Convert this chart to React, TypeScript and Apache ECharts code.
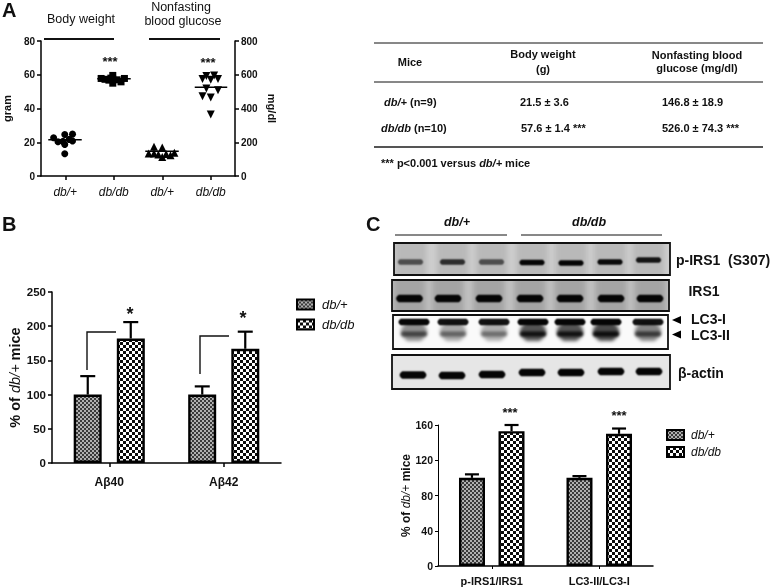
import React, { useEffect, useRef } from "react";
import * as echarts from "echarts";

const FONT = "Liberation Sans";

// Panel A
const groupLabels = ["db/+", "db/db", "db/+", "db/db"];
const weightCtrl = [[0.26, 22.7], [0.35, 20.3], [0.45, 20.5], [0.49, 24.6], [0.49, 18.7], [0.49, 13.2], [0.58, 21.7], [0.65, 24.8], [0.65, 20.7]];
const weightDb = [[1.24, 57.8], [1.32, 57.3], [1.4, 56.8], [1.48, 59.6], [1.48, 55], [1.48, 57.4], [1.44, 58], [1.57, 57], [1.65, 55.8], [1.72, 57.8]];
const glucoseCtrl = [[2.33, 173], [2.5, 169], [2.22, 133], [2.33, 133], [2.42, 127], [2.5, 113], [2.58, 130], [2.67, 123], [2.75, 138]];
const glucoseDb = [[3.41, 593], [3.57, 595], [3.33, 575], [3.5, 571], [3.65, 575], [3.41, 518], [3.65, 508], [3.33, 473], [3.5, 465], [3.5, 364]];
const meanLines = [
  { from: 0.15, to: 0.84, value: 21.5, axis: 0 },
  { from: 1.16, to: 1.85, value: 57.6, axis: 0 },
  { from: 2.15, to: 2.84, value: 146.8, axis: 1 },
  { from: 3.17, to: 3.84, value: 526, axis: 1 },
];

// Panel B
const abetaLabels = ["Aβ40", "Aβ42"];
const abetaCtrl = [100, 100];
const abetaDb = [182, 167];
const abetaCtrlErr = [127, 112];
const abetaDbErr = [206, 192];

// Panel C
const ratioLabels = ["p-IRS1/IRS1", "LC3-II/LC3-I"];
const ratioCtrl = [100, 100];
const ratioDb = [153, 150];
const ratioCtrlErr = [104, 102];
const ratioDbErr = [160, 156];

// Blot band intensities per lane
const pIrsBands = [0.6, 0.78, 0.6, 1, 1, 0.98, 0.92];
const irsBands = [1, 1, 1, 1, 1, 1, 1];
const lc3OneBands = [1, 0.95, 0.95, 1, 1, 1, 0.95];
const lc3TwoBands = [0.55, 0.42, 0.38, 0.85, 0.85, 0.9, 0.6];
const actinBands = [1, 1, 1, 1, 1, 1, 1];

const tableHeader = { mice: "Mice", weight: ["Body weight", "(g)"], glucose: ["Nonfasting blood", "glucose (mg/dl)"] };
const tableRows = [
  { name: "{i|db/+} {b|(n=9)}", weight: "21.5 ± 3.6", glucose: "146.8 ± 18.9" },
  { name: "{i|db/db} {b|(n=10)}", weight: "57.6 ± 1.4 ***", glucose: "526.0 ± 74.3 ***" },
];

function checker(period: number, dark: string, light: string) {
  const c = document.createElement("canvas");
  c.width = period;
  c.height = period;
  const g = c.getContext("2d")!;
  g.fillStyle = light;
  g.fillRect(0, 0, period, period);
  g.fillStyle = dark;
  g.fillRect(0, 0, period / 2, period / 2);
  g.fillRect(period / 2, period / 2, period / 2, period / 2);
  return c;
}

type Band = { xs: number[]; y: number[]; amount: number[]; w: number; h: number; blur: number };

function blot(w: number, h: number, x0: number, y0: number, bg: string, lane: string | null, laneW: number, bands: Band[]) {
  const c = document.createElement("canvas");
  c.width = w * 2;
  c.height = h * 2;
  const g = c.getContext("2d")!;
  g.scale(2, 2);
  g.fillStyle = bg;
  g.fillRect(0, 0, w, h);
  if (lane) {
    g.filter = "blur(6px)";
    g.fillStyle = lane;
    bands[0].xs.forEach((x) => g.fillRect(x - x0 - laneW / 2, -8, laneW, h + 16));
  }
  bands.forEach((b) => {
    g.filter = `blur(${b.blur * 2}px)`;
    b.xs.forEach((x, i) => {
      g.fillStyle = `rgba(5,5,5,${b.amount[i]})`;
      g.beginPath();
      const rx = b.w / 2;
      const ry = b.h / 2;
      const cx = x - x0;
      const cy = b.y[i] - y0;
      g.moveTo(cx - rx + ry, cy - ry);
      g.lineTo(cx + rx - ry, cy - ry);
      g.quadraticCurveTo(cx + rx + ry * 0.4, cy, cx + rx - ry, cy + ry);
      g.lineTo(cx - rx + ry, cy + ry);
      g.quadraticCurveTo(cx - rx - ry * 0.4, cy, cx - rx + ry, cy - ry);
      g.fill();
    });
  });
  g.filter = "none";
  return c.toDataURL();
}

function text(value: string, x: number, y: number, o: any = {}) {
  const { rotation, ...st } = o;
  return {
    type: "text",
    x,
    y,
    rotation: rotation || 0,
    silent: true,
    style: {
      text: value,
      fontFamily: FONT,
      fontSize: 11,
      fontWeight: "bold",
      fill: "#111",
      align: "left",
      verticalAlign: "middle",
      ...st,
    },
  };
}

function hline(x1: number, x2: number, y: number, width: number, color = "#111") {
  return { type: "line", silent: true, shape: { x1, y1: y, x2, y2: y }, style: { stroke: color, lineWidth: width } };
}

function errorBars(xAxisIndex: number, yAxisIndex: number, tops: number[], bases: number[], offset: number, cap: number) {
  return {
    type: "custom",
    name: "err",
    xAxisIndex,
    yAxisIndex,
    z: 1,
    silent: true,
    encode: { x: 0, y: [1, 2] },
    data: tops.map((t, i) => [i, t, bases[i]]),
    renderItem: (_: any, api: any) => {
      const top = api.coord([api.value(0), api.value(1)]);
      const base = api.coord([api.value(0), api.value(2)]);
      const x = top[0] + offset;
      const st = { stroke: "#000", lineWidth: 2.2 };
      return {
        type: "group",
        children: [
          { type: "line", shape: { x1: x, y1: top[1], x2: x, y2: base[1] }, style: st },
          { type: "line", shape: { x1: x - cap / 2, y1: top[1], x2: x + cap / 2, y2: top[1] }, style: st },
        ],
      };
    },
  };
}

function App() {
  const ref = useRef<HTMLDivElement>(null);
  useEffect(() => {
    document.body.style.margin = "0";
    document.body.style.background = "#fff";
    const chart = echarts.init(ref.current!, null, { renderer: "svg" });

    const fine = { image: checker(4, "#3a3a3a", "#b0b0b0"), repeat: "repeat" };
    const coarse = { image: checker(6, "#0a0a0a", "#fff"), repeat: "repeat" };
    const barStyle = (color: any) => ({ color, borderColor: "#000", borderWidth: 2.4 });

    const axisLine = { show: true, lineStyle: { color: "#000", width: 1.5 } };
    const axisTick = { show: true, length: 4, lineStyle: { color: "#000", width: 1.5 } };
    const valueLabel = (size: number, margin: number) => ({ color: "#111", fontWeight: "bold", fontSize: size, fontFamily: FONT, margin });
    const pctName = (size: number) => ({
      name: "{a|% of }{b|db/+}{a| mice}",
      nameLocation: "middle",
      nameRotate: 90,
      nameTextStyle: {
        rich: {
          a: { fontFamily: FONT, fontWeight: "bold", fontSize: size, color: "#111" },
          b: { fontFamily: FONT, fontStyle: "italic", fontSize: size, color: "#111" },
        },
      },
    });

    const lanesA = [410.5, 452.5, 491.5, 532, 571, 610, 648.5];
    const lanesB = [409.5, 448, 489, 530, 570, 611, 650];
    const lanesC = [414, 453, 494, 533, 570, 606, 648];
    const lanesD = [413, 452, 492, 532, 571, 611, 649];

    const blots = [
      { x: 394, y: 243, w: 276, h: 32, src: blot(276, 32, 394, 243, "#cfcfcf", "#b9b9b9", 32, [
        { xs: lanesA, y: [262, 262, 262, 262.5, 263, 262, 260], amount: pIrsBands, w: 27, h: 5.5, blur: 0.9 },
      ]) },
      { x: 392, y: 280, w: 277, h: 31, src: blot(277, 31, 392, 280, "#c4c4c4", "#a4a4a4", 32, [
        { xs: lanesB, y: [298.5, 298.5, 298.5, 298.5, 298.5, 298.5, 298.5], amount: irsBands, w: 29, h: 7.5, blur: 0.7 },
      ]) },
      { x: 393, y: 315, w: 275, h: 34, src: blot(275, 34, 393, 315, "#fafafa", null, 0, [
        { xs: lanesC, y: lanesC.map(() => 331.5), amount: lc3TwoBands.map((a) => a * 0.8), w: 32, h: 19, blur: 1.8 },
        { xs: lanesC, y: lanesC.map(() => 334), amount: lc3TwoBands, w: 28, h: 5, blur: 1.2 },
        { xs: lanesC, y: lanesC.map(() => 322), amount: lc3OneBands, w: 33, h: 6.5, blur: 0.9 },
      ]) },
      { x: 392, y: 355, w: 278, h: 34, src: blot(278, 34, 392, 355, "#e6e6e6", null, 0, [
        { xs: lanesD, y: [375, 375.5, 374.5, 372.5, 372.5, 371.5, 371.5], amount: actinBands, w: 29, h: 7.5, blur: 0.8 },
      ]) },
    ];

    const richRow = {
      i: { fontFamily: FONT, fontStyle: "italic", fontWeight: "bold", fontSize: 11, fill: "#111", color: "#111" },
      b: { fontFamily: FONT, fontWeight: "bold", fontSize: 11, fill: "#111", color: "#111" },
    };

    const graphic: any[] = [
      text("A", 2, 10, { fontSize: 20 }),
      text("B", 2, 224, { fontSize: 20 }),
      text("C", 366, 224, { fontSize: 20 }),

      text("Body weight", 81, 19, { fontSize: 12.5, fontWeight: "normal", align: "center" }),
      text("Nonfasting", 181, 7, { fontSize: 12.5, fontWeight: "normal", align: "center" }),
      text("blood glucose", 183, 21, { fontSize: 12.5, fontWeight: "normal", align: "center" }),
      hline(44, 114, 39, 2),
      hline(149, 220, 39, 2),
      text("***", 110, 61, { fontSize: 13, align: "center" }),
      text("***", 208, 62, { fontSize: 13, align: "center" }),

      hline(374, 763, 43, 1),
      hline(374, 763, 82, 1),
      hline(374, 763, 147, 2, "#555"),
      text(tableHeader.mice, 410, 62, { align: "center" }),
      text(tableHeader.weight[0], 543, 54, { align: "center" }),
      text(tableHeader.weight[1], 543, 69, { align: "center" }),
      text(tableHeader.glucose[0], 697, 55, { align: "center" }),
      text(tableHeader.glucose[1], 697, 68, { align: "center" }),
      text(tableRows[0].name, 384, 102, { rich: richRow }),
      text(tableRows[1].name, 381, 128, { rich: richRow }),
      text(tableRows[0].weight, 520, 102),
      text(tableRows[1].weight, 521, 128),
      text(tableRows[0].glucose, 662, 102),
      text(tableRows[1].glucose, 662, 128),
      text("{b|*** p<0.001 versus }{i|db/+}{b| mice}", 381, 163, { rich: richRow }),

      { type: "polyline", silent: true, shape: { points: [[87, 370], [87, 332], [116, 332]] }, style: { stroke: "#111", lineWidth: 1.4, fill: "none" } },
      { type: "polyline", silent: true, shape: { points: [[200, 374], [200, 336], [229, 336]] }, style: { stroke: "#111", lineWidth: 1.4, fill: "none" } },
      text("*", 130, 314, { fontSize: 18, align: "center" }),
      text("*", 243, 318, { fontSize: 18, align: "center" }),

      text("db/+", 457, 222, { fontSize: 12.5, fontStyle: "italic", align: "center" }),
      text("db/db", 589, 222, { fontSize: 12.5, fontStyle: "italic", align: "center" }),
      hline(395, 507, 235, 1),
      hline(521, 662, 235, 1),
      ...blots.flatMap((b) => [
        { type: "image", silent: true, x: b.x, y: b.y, style: { image: b.src, x: 0, y: 0, width: b.w, height: b.h } },
        { type: "rect", silent: true, shape: { x: b.x, y: b.y, width: b.w, height: b.h }, style: { fill: "none", stroke: "#111", lineWidth: 1.8 } },
      ]),
      text("p-IRS1  (S307)", 676, 260, { fontSize: 14 }),
      text("IRS1", 704, 291, { fontSize: 14, align: "center" }),
      text("LC3-I", 691, 319, { fontSize: 14 }),
      text("LC3-II", 691, 335, { fontSize: 14 }),
      text("β-actin", 678, 373, { fontSize: 14 }),
      { type: "polygon", silent: true, shape: { points: [[672, 320], [681, 316], [681, 324]] }, style: { fill: "#000" } },
      { type: "polygon", silent: true, shape: { points: [[672, 334.5], [681, 330.5], [681, 338.5]] }, style: { fill: "#000" } },
      text("***", 510, 412, { fontSize: 13, align: "center" }),
      text("***", 619, 415, { fontSize: 13, align: "center" }),
    ];

    const legendOf = (left: number, top: number, gap: number, size: number, pad: number) => ({
      orient: "vertical",
      left,
      top,
      itemWidth: 17,
      itemHeight: 10,
      itemGap: gap,
      selectedMode: false,
      icon: "rect",
      data: ["db/+", "db/db"],
      padding: 0,
      textStyle: { fontFamily: FONT, fontStyle: "italic", fontSize: size, color: "#111", padding: [0, 0, 0, pad] },
    });

    const dots = (name: string, data: number[][], yAxisIndex: number, symbol: string, rotate = 0) => ({
      type: "scatter",
      name,
      xAxisIndex: 1,
      yAxisIndex,
      data,
      symbol,
      symbolSize: symbol === "circle" ? 7 : symbol === "rect" ? 7 : 8,
      symbolRotate: rotate,
      itemStyle: { color: "#000", opacity: 1 },
      silent: true,
      z: 2,
    });

    chart.setOption({
      animation: false,
      textStyle: { fontFamily: FONT },
      tooltip: { show: false },
      graphic,
      legend: [legendOf(296, 298, 7, 13, 3), legendOf(666, 429, 5, 12, 2)],
      grid: [
        { left: 32, top: 41, width: 203, height: 135 },
        { left: 52, top: 292, width: 229, height: 171 },
        { left: 438, top: 425, width: 215, height: 141 },
      ],
      xAxis: [
        { type: "category", gridIndex: 0, data: groupLabels, axisLine, axisTick: { ...axisTick, alignWithLabel: true },
          axisLabel: { color: "#111", fontStyle: "italic", fontSize: 12, fontFamily: FONT, margin: 10 } },
        { type: "value", gridIndex: 0, min: 0, max: 4, show: false, splitLine: { show: false } },
        { type: "category", gridIndex: 1, data: abetaLabels, axisLine, axisTick: { ...axisTick, alignWithLabel: true },
          axisLabel: { color: "#111", fontWeight: "bold", fontSize: 12, fontFamily: FONT, margin: 13 } },
        { type: "category", gridIndex: 2, data: ratioLabels, axisLine, axisTick: { show: true, length: 3, alignWithLabel: true, lineStyle: { color: "#000", width: 1 } },
          axisLabel: { color: "#111", fontWeight: "bold", fontSize: 11, fontFamily: FONT, margin: 9 } },
      ],
      yAxis: [
        { type: "value", gridIndex: 0, min: 0, max: 80, interval: 20, axisLine, axisTick, splitLine: { show: false },
          axisLabel: valueLabel(10, 6), name: "gram", nameLocation: "middle", nameRotate: 90, nameGap: 29,
          nameTextStyle: { fontWeight: "bold", fontSize: 11, color: "#111", fontFamily: FONT } },
        { type: "value", gridIndex: 0, position: "right", min: 0, max: 800, interval: 200, axisLine, axisTick, splitLine: { show: false },
          axisLabel: valueLabel(10, 6), name: "mg/dl", nameLocation: "middle", nameRotate: -90, nameGap: 31,
          nameTextStyle: { fontWeight: "bold", fontSize: 11, color: "#111", fontFamily: FONT } },
        { type: "value", gridIndex: 1, min: 0, max: 250, interval: 50, axisLine, axisTick, splitLine: { show: false },
          axisLabel: valueLabel(11.5, 6), ...pctName(14.5), nameGap: 28 },
        { type: "value", gridIndex: 2, min: 0, max: 160, interval: 40, axisLine: { show: true, lineStyle: { color: "#000", width: 1 } },
          axisTick: { show: true, length: 3, lineStyle: { color: "#000", width: 1 } }, splitLine: { show: false },
          axisLabel: valueLabel(10.5, 5), ...pctName(12), nameGap: 26 },
      ],
      series: [
        dots("weight control", weightCtrl, 0, "circle"),
        dots("weight db", weightDb, 0, "rect"),
        dots("glucose control", glucoseCtrl, 1, "triangle"),
        dots("glucose db", glucoseDb, 1, "triangle", 180),
        ...meanLines.map((m) => ({
          type: "line",
          name: "mean",
          xAxisIndex: 1,
          yAxisIndex: m.axis,
          data: [[m.from, m.value], [m.to, m.value]],
          symbol: "none",
          silent: true,
          z: 3,
          lineStyle: { color: "#000", width: 1.6 },
        })),

        errorBars(2, 2, abetaCtrlErr, abetaCtrl, -21.5, 15),
        errorBars(2, 2, abetaDbErr, abetaDb, 21.5, 15),
        { type: "bar", name: "db/+", xAxisIndex: 2, yAxisIndex: 2, data: abetaCtrl, barWidth: 28, barGap: "54%", itemStyle: barStyle(fine), z: 2 },
        { type: "bar", name: "db/db", xAxisIndex: 2, yAxisIndex: 2, data: abetaDb, barWidth: 28, barGap: "54%", itemStyle: barStyle(coarse), z: 2 },

        errorBars(3, 3, ratioCtrlErr, ratioCtrl, -19.8, 14),
        errorBars(3, 3, ratioDbErr, ratioDb, 19.8, 14),
        { type: "bar", name: "db/+", xAxisIndex: 3, yAxisIndex: 3, data: ratioCtrl, barWidth: 26, barGap: "52%", itemStyle: barStyle(fine), z: 2 },
        { type: "bar", name: "db/db", xAxisIndex: 3, yAxisIndex: 3, data: ratioDb, barWidth: 26, barGap: "52%", itemStyle: barStyle(coarse), z: 2 },
      ],
    });
    return () => chart.dispose();
  }, []);
  return <div ref={ref} style={{ position: "absolute", left: 0, top: 0, width: 773, height: 588, filter: "blur(0.3px)" }} />;
}

export default App;
